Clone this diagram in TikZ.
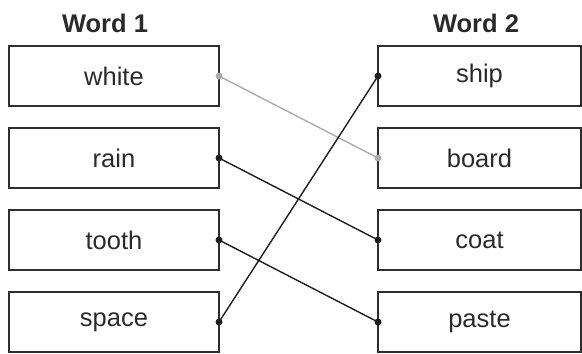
\documentclass[tikz,border=0pt]{standalone}
\usepackage{fontspec}
\setmainfont{Liberation Sans}
\usetikzlibrary{positioning}
\definecolor{boxline}{HTML}{2E2E2E}
\definecolor{wordtext}{HTML}{2A2A2A}
\definecolor{linkdark}{HTML}{1E1E1E}
\definecolor{linklight}{HTML}{ABABAB}
\begin{document}
\begin{tikzpicture}[x=1pt, y=-1pt, node distance={22pt},
  word/.style = {draw=boxline, line width=1.5pt, minimum width=210pt, minimum height=60pt, inner sep=0pt, outer sep=0pt, text=wordtext, font=\fontsize{25.5}{30}\selectfont},
  head/.style = {inner sep=0pt, text=wordtext, font=\fontsize{25.5}{30}\selectfont\bfseries},
  link/.style = {line width=1.4pt, draw=linkdark}]
\useasboundingbox (0,0) rectangle (582,354);
% column headings
\node[head] (word1) at (105,23) {Word 1};
\node[head] (word2) at (476,23) {Word 2};
% left column
\node[word] (white) at (114,76) {white};
\node[word] (rain) [below=of white] {rain};
\node[word] (tooth) [below=of rain] {tooth};
\node[word] (space) [below=of tooth] {space};
% right column
\node[word, minimum width=203pt] (ship) at (479.5,76) {ship};
\node[word, minimum width=203pt] (board) [below=of ship] {board};
\node[word, minimum width=203pt] (coat) [below=of board] {coat};
\node[word, minimum width=203pt] (paste) [below=of coat] {paste};
% matching lines
\draw[link, draw=linklight] (white.east) -- (board.west);
\fill[linklight] (white.east) circle (3.5pt) (board.west) circle (3.5pt);
\foreach \a/\b in {rain/coat, tooth/paste, space/ship} {
  \draw[link] (\a.east) -- (\b.west);
  \fill[linkdark] (\a.east) circle (3.5pt) (\b.west) circle (3.5pt);
}
\end{tikzpicture}
\end{document}
